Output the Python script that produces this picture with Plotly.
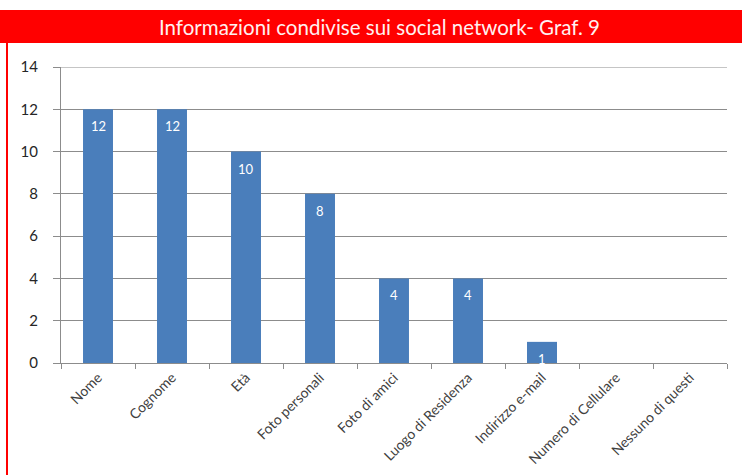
import plotly.graph_objects as go

categories = ["Nome", "Cognome", "Età", "Foto personali", "Foto di amici",
              "Luogo di Residenza", "Indirizzo e-mail", "Numero di Cellulare",
              "Nessuno di questi"]
values = [12, 12, 10, 8, 4, 4, 1, 0, 0]
y_ticks = [0, 2, 4, 6, 8, 10, 12, 14]
title_text = "Informazioni condivise sui social network- Graf. 9"

BAR_COLOR = "#4A7EBB"
GRID_COLOR = "#8C8C8C"
RED = "#FF0000"
FONT = "Lato"

fig = go.Figure()
fig.add_trace(go.Bar(
    x=categories,
    y=values,
    marker=dict(color=BAR_COLOR, line=dict(width=0)),
    hoverinfo="x+y",
))

# value labels just under the top of each non-zero bar
for cat, val in zip(categories, values):
    if val > 0:
        fig.add_annotation(
            x=cat, y=val, text=str(val), showarrow=False,
            yshift=-17, xref="x", yref="y",
            font=dict(family=FONT, size=13, color="white"),
        )

# top gridline at the maximum of the value axis
fig.add_shape(type="line", xref="paper", yref="y",
              x0=0, x1=1, y0=y_ticks[-1], y1=y_ticks[-1],
              line=dict(color=GRID_COLOR, width=1))

# red title banner and left border
fig.add_shape(type="rect", xref="paper", yref="paper",
              x0=-61 / 666, x1=(742 - 61) / 666,
              y0=1 + (67 - 43) / 296, y1=1 + (67 - 10) / 296,
              fillcolor=RED, line=dict(width=0), layer="above")
fig.add_shape(type="line", xref="paper", yref="paper",
              x0=-54 / 666, x1=-54 / 666,
              y0=1 + (67 - 43) / 296, y1=-112 / 296,
              line=dict(color=RED, width=2))
fig.add_annotation(
    xref="paper", yref="paper",
    x=(379 - 61) / 666, y=1 + (67 - 27) / 296,
    text=title_text, showarrow=False,
    font=dict(family=FONT, size=20.5, color="#FFF0F0"),
    xanchor="center", yanchor="middle",
)

fig.update_layout(
    width=742, height=475,
    margin=dict(l=61, r=15, t=67, b=112, autoexpand=False),
    paper_bgcolor="white", plot_bgcolor="white",
    bargap=0.595,
    showlegend=False,
    font=dict(family=FONT, color="#333333"),
)
fig.update_xaxes(
    type="category", automargin=False,
    showline=True, linecolor=GRID_COLOR, linewidth=1,
    ticks="outside", tickson="boundaries", ticklen=5, tickcolor=GRID_COLOR,
    tickangle=-45, tickfont=dict(family=FONT, size=14, color="#404040"),
    showgrid=False,
)
fig.update_yaxes(
    range=[0, 14], tickvals=y_ticks, automargin=False,
    showline=True, linecolor=GRID_COLOR, linewidth=1,
    ticks="outside", ticklen=7, tickcolor=GRID_COLOR,
    ticklabelstandoff=12,
    tickfont=dict(family=FONT, size=15, color="#262626"),
    showgrid=True, gridcolor=GRID_COLOR, gridwidth=1,
    zeroline=False,
)

fig.write_html("out.html")
